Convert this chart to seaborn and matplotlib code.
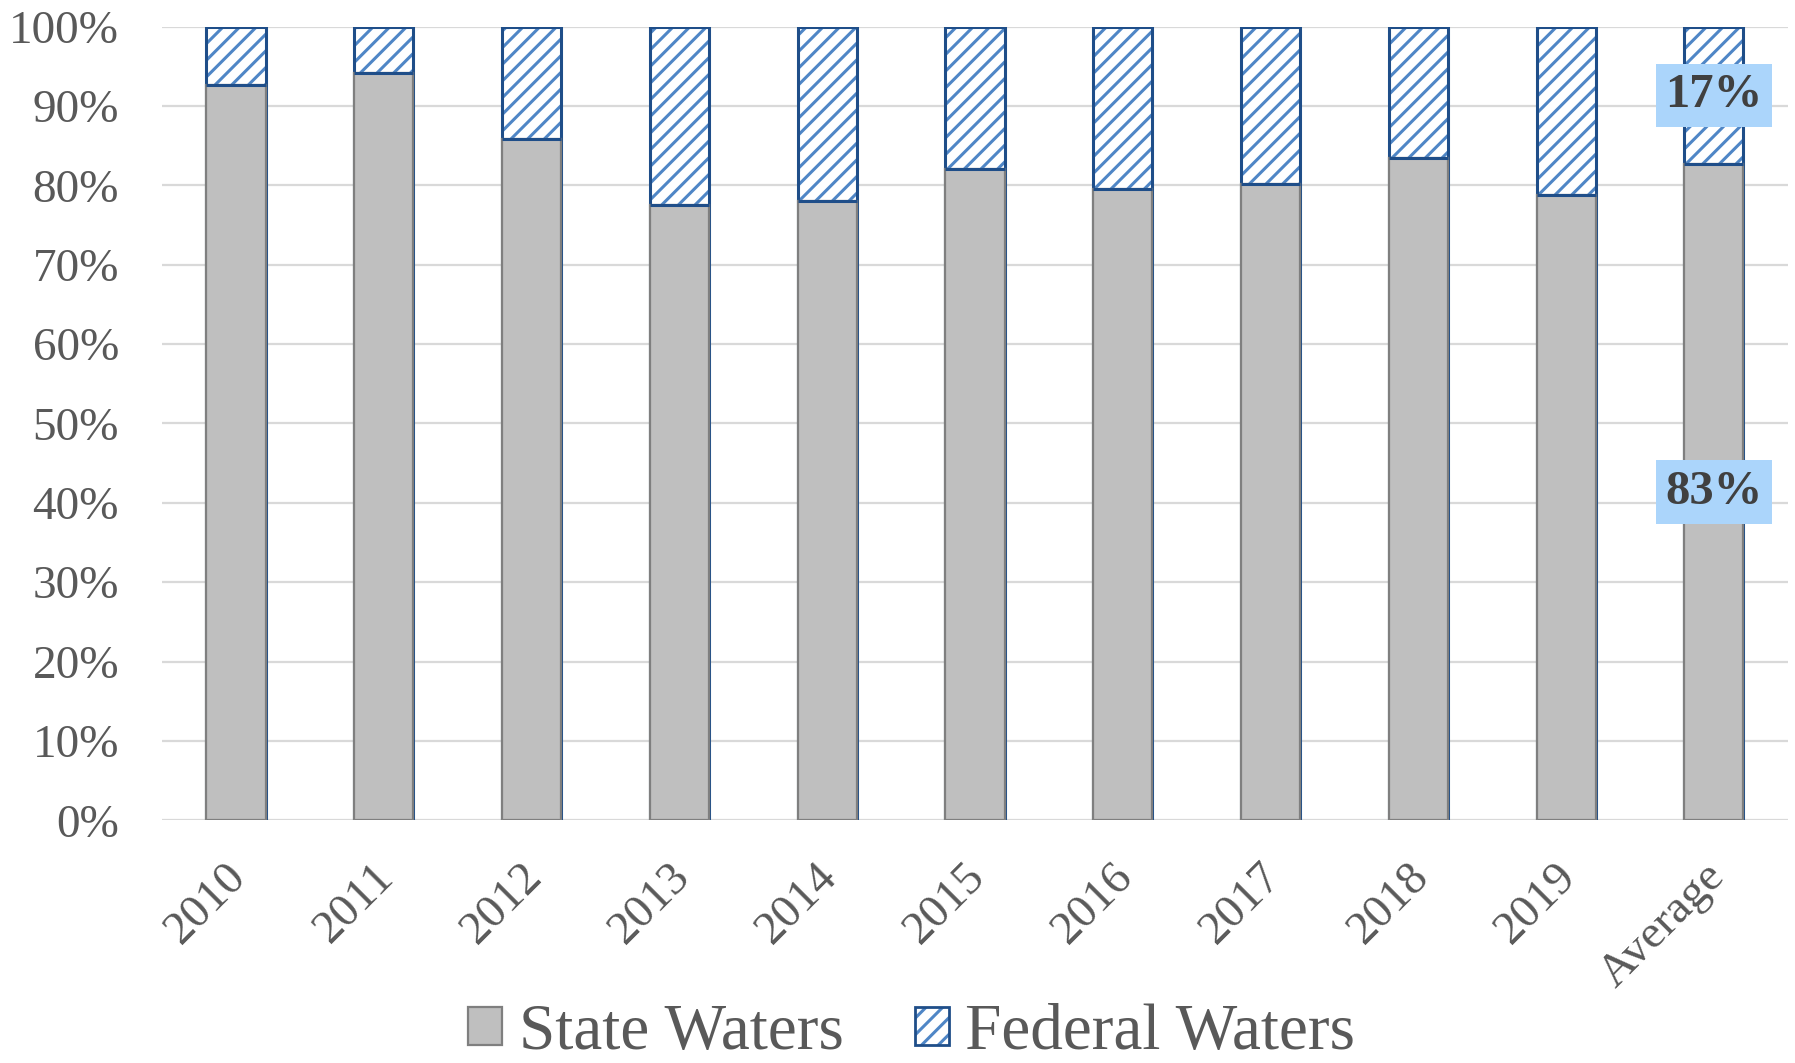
import numpy as np
import pandas as pd
import matplotlib
matplotlib.use("Agg")
import matplotlib.pyplot as plt
import matplotlib.transforms as mtransforms
from matplotlib.patches import Patch
from matplotlib.legend_handler import HandlerTuple
import seaborn as sns

# --- data ---
years = ['2010', '2011', '2012', '2013', '2014', '2015', '2016', '2017', '2018', '2019', 'Average']
state_pct = [92.7, 94.2, 85.8, 77.5, 78.0, 82.1, 79.5, 80.2, 83.4, 78.8, 82.7]
federal_pct = [7.3, 5.8, 14.2, 22.5, 22.0, 17.9, 20.5, 19.8, 16.6, 21.2, 17.3]
avg_labels = ['83%', '17%']
y_ticks = list(range(0, 101, 10))

# --- styling ---
GREY_FILL = '#BFBFBF'
GREY_EDGE = '#7F7F7F'
HATCH_BLUE = '#4F86C6'
DARK_BLUE = '#1F4E89'
TEXT_GREY = '#595959'
LABEL_BOX = '#ABD5FB'

sns.set_style('white')
plt.rcParams['font.family'] = ['Liberation Serif', 'DejaVu Serif']
plt.rcParams['hatch.linewidth'] = 2.2

df = pd.DataFrame({'Year': years, 'State': state_pct, 'Federal': federal_pct})
df['Total'] = df['State'] + df['Federal']

fig = plt.figure(figsize=(17.95, 10.63), dpi=100)
ax = fig.add_axes([0.0903, 0.2283, 0.9057, 0.7467])

# federal waters = top segment: full stacked height, hatched, dark blue outline
sns.barplot(data=df, x='Year', y='Total', color='white', saturation=1,
            edgecolor=HATCH_BLUE, hatch='//', linewidth=0, width=0.4,
            ax=ax, zorder=2)
sns.barplot(data=df, x='Year', y='Total', color='white', saturation=1,
            fill=False, edgecolor=DARK_BLUE, linewidth=2.2, width=0.4,
            ax=ax, zorder=3)
# state waters drawn over the lower part
sns.barplot(data=df, x='Year', y='State', color=GREY_FILL, saturation=1,
            edgecolor=GREY_EDGE, linewidth=1.6, width=0.4, ax=ax, zorder=4)
# dark blue boundary between the two segments
ax.hlines(df['State'], np.arange(len(years)) - 0.2, np.arange(len(years)) + 0.2,
          color=DARK_BLUE, linewidth=2.2, zorder=5)

ax.set_ylim(0, 100)
ax.set_xlim(-0.5, len(years) - 0.5)
ax.set_yticks(y_ticks)
ax.set_yticklabels([f'{v}%' for v in y_ticks])
ax.yaxis.grid(True, color='#D9D9D9', linewidth=1.6)
ax.set_axisbelow(True)
for s in ax.spines.values():
    s.set_visible(False)
ax.set_xlabel('')
ax.set_ylabel('')
ax.tick_params(axis='both', length=0, colors=TEXT_GREY, labelsize=34)
ax.tick_params(axis='y', pad=31)
ax.tick_params(axis='x', pad=25)
shift = mtransforms.ScaledTranslation(-0.11, 0, fig.dpi_scale_trans)
for lbl in ax.get_xticklabels():
    lbl.set_rotation(45)
    lbl.set_ha('right')
    lbl.set_va('top')
    lbl.set_rotation_mode('anchor')
    lbl.set_transform(lbl.get_transform() + shift)

# labels on the average bar
i_avg = len(years) - 1
label_y = [state_pct[i_avg] / 2, state_pct[i_avg] + federal_pct[i_avg] / 2]
for txt, yv in zip(avg_labels, label_y):
    ax.text(i_avg, yv, txt, ha='center', va='center', fontsize=35,
            fontweight='bold', color='#404040', zorder=6,
            bbox=dict(boxstyle='square,pad=0.2', facecolor=LABEL_BOX,
                      edgecolor='none'))

# legend
h_state = Patch(facecolor=GREY_FILL, edgecolor=GREY_EDGE, linewidth=1.6)
h_fed = (Patch(facecolor='white', edgecolor=HATCH_BLUE, hatch='//', linewidth=0),
         Patch(facecolor='none', edgecolor=DARK_BLUE, linewidth=2.0))
fig.legend([h_state, h_fed], ['State Waters', 'Federal Waters'],
           handler_map={tuple: HandlerTuple(ndivide=1, pad=0)},
           loc='center', bbox_to_anchor=(0.508, 0.028), ncol=2, frameon=False,
           fontsize=47, labelcolor=TEXT_GREY, handlelength=0.52,
           handleheight=0.52, handletextpad=0.25, columnspacing=1.1,
           borderpad=0.1)

fig.savefig('out.png', dpi=100, facecolor='white')
